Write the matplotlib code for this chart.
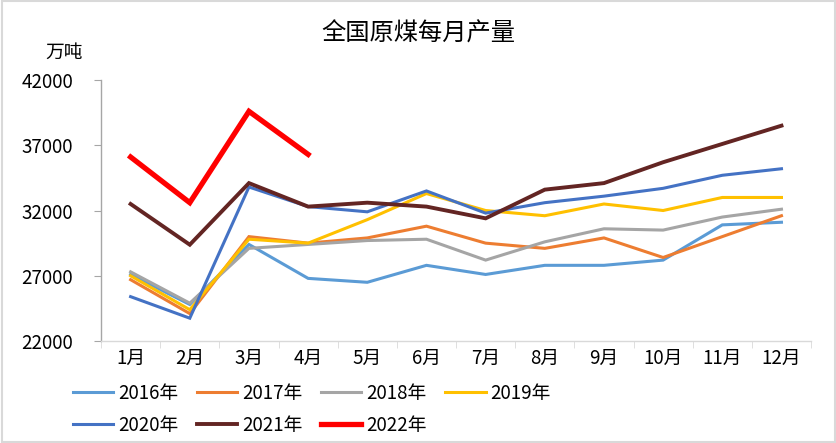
import matplotlib.pyplot as plt
import numpy as np

plt.rcParams['font.family'] = ['Noto Sans CJK SC', 'DejaVu Sans']

months = ['1月', '2月', '3月', '4月', '5月', '6月', '7月', '8月', '9月', '10月', '11月', '12月']

y2016 = [27100, 24800, 29400, 26800, 26500, 27800, 27100, 27800, 27800, 28200, 30900, 31100]
y2017 = [26700, 24100, 30000, 29500, 29900, 30800, 29500, 29100, 29900, 28400, 30000, 31600]
y2018 = [27300, 24900, 29100, 29400, 29700, 29800, 28200, 29600, 30600, 30500, 31500, 32100]
y2019 = [27000, 24400, 29800, 29500, 31300, 33300, 32000, 31600, 32500, 32000, 33000, 33000]
y2020 = [25400, 23750, 33800, 32300, 31900, 33500, 31800, 32600, 33100, 33700, 34700, 35200]
y2021 = [32500, 29380, 34100, 32300, 32600, 32300, 31400, 33600, 34100, 35700, 37100, 38500]
y2022 = [36100, 32600, 39600, 36300]

series = [
    ('2016年', y2016, '#5B9BD5', 2.2),
    ('2017年', y2017, '#ED7D31', 2.2),
    ('2018年', y2018, '#A5A5A5', 2.2),
    ('2019年', y2019, '#FFC000', 2.2),
    ('2020年', y2020, '#4472C4', 2.2),
    ('2021年', y2021, '#632523', 2.8),
    ('2022年', y2022, '#FF0000', 3.8),
]

fig = plt.figure(figsize=(8.37, 4.43), dpi=100)
ax = fig.add_axes([0.1207, 0.2302, 0.8483, 0.5892])

lines = {}
for name, vals, color, lw in series:
    x = np.arange(len(vals))
    ln, = ax.plot(x, vals, color=color, lw=lw, solid_joinstyle='miter', label=name)
    lines[name] = ln

ax.set_xlim(-0.5, 11.5)
ax.set_ylim(22000, 42000)
ax.set_yticks(np.arange(22000, 42001, 5000))
ax.set_xticks(np.arange(12))
ax.set_xticklabels(months)
ax.set_xticks(np.arange(-0.5, 12, 1), minor=True)

for s in ['top', 'right']:
    ax.spines[s].set_visible(False)
ax.spines['left'].set_color('#A6A6A6')
ax.spines['bottom'].set_color('#D9D9D9')
ax.spines['left'].set_linewidth(1.0)
ax.spines['bottom'].set_linewidth(1.0)

ax.tick_params(axis='x', which='major', length=0, pad=5, labelsize=13.5)
ax.tick_params(axis='x', which='minor', length=5, color='#D9D9D9', direction='out')
ax.tick_params(axis='y', length=5, color='#A6A6A6', pad=15, labelsize=13.5)

fig.text(0.5, 0.925, '全国原煤每月产量', ha='center', va='center', fontsize=17.5)
fig.text(0.077, 0.882, '万吨', ha='center', va='center', fontsize=13.5)

order = ['2016年', '2020年', '2017年', '2021年', '2018年', '2022年', '2019年']
fig.legend([lines[k] for k in order], order, ncol=4, loc='upper left',
           bbox_to_anchor=(0.087, 0.136), frameon=False, fontsize=13.5,
           handlelength=2.15, handletextpad=0.25, columnspacing=1.0,
           labelspacing=0.6, borderpad=0, borderaxespad=0)

# chart border
fig.patches.append(plt.Rectangle((0.002, 0.003), 0.996, 0.994, transform=fig.transFigure,
                                 fill=False, edgecolor='#D9D9D9', lw=1.5))

fig.savefig('out.png', dpi=100)
